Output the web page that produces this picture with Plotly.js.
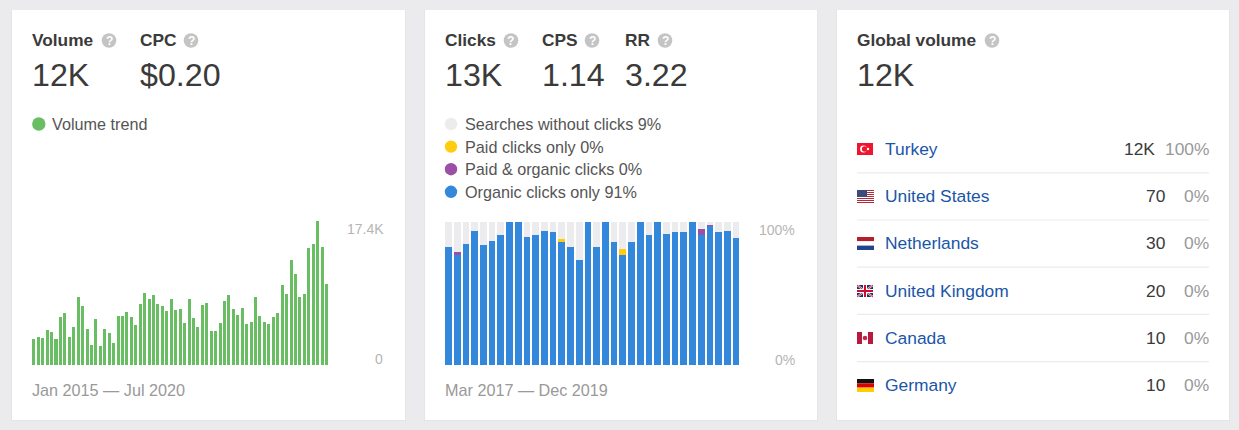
<!DOCTYPE html>
<html><head><meta charset="utf-8">
<script src="https://cdn.plot.ly/plotly-3.0.1.min.js"></script>
<style>html,body{margin:0;padding:0;background:#ebebee;overflow:hidden}#c{width:1239px;height:430px}</style>
</head><body><div id="c"></div>
<script>
const volumeMonths = ["Jan 2015","Feb 2015","Mar 2015","Apr 2015","May 2015","Jun 2015","Jul 2015","Aug 2015","Sep 2015","Oct 2015","Nov 2015","Dec 2015","Jan 2016","Feb 2016","Mar 2016","Apr 2016","May 2016","Jun 2016","Jul 2016","Aug 2016","Sep 2016","Oct 2016","Nov 2016","Dec 2016","Jan 2017","Feb 2017","Mar 2017","Apr 2017","May 2017","Jun 2017","Jul 2017","Aug 2017","Sep 2017","Oct 2017","Nov 2017","Dec 2017","Jan 2018","Feb 2018","Mar 2018","Apr 2018","May 2018","Jun 2018","Jul 2018","Aug 2018","Sep 2018","Oct 2018","Nov 2018","Dec 2018","Jan 2019","Feb 2019","Mar 2019","Apr 2019","May 2019","Jun 2019","Jul 2019","Aug 2019","Sep 2019","Oct 2019","Nov 2019","Dec 2019","Jan 2020","Feb 2020","Mar 2020","Apr 2020","May 2020","Jun 2020","Jul 2020"];
const volumeValues = [3100,3340,3300,4190,3990,3100,5760,6240,3340,4550,8180,7130,4350,2420,5560,2300,4350,3830,2620,5920,5920,6440,5760,4870,7330,8700,7970,8420,7330,7170,6570,7970,6610,6730,5080,7970,5640,4590,7290,7450,4070,4150,5030,7690,8460,6730,6000,6930,4950,5240,8220,5880,5160,4950,5840,6240,9630,8580,12690,11000,8180,8540,14100,14620,17400,14260,9750];

const clickMonths = ["Mar 2017","Apr 2017","May 2017","Jun 2017","Jul 2017","Aug 2017","Sep 2017","Oct 2017","Nov 2017","Dec 2017","Jan 2018","Feb 2018","Mar 2018","Apr 2018","May 2018","Jun 2018","Jul 2018","Aug 2018","Sep 2018","Oct 2018","Nov 2018","Dec 2018","Jan 2019","Feb 2019","Mar 2019","Apr 2019","May 2019","Jun 2019","Jul 2019","Aug 2019","Sep 2019","Oct 2019","Nov 2019","Dec 2019"];
const organicOnly = [82.8,76.7,84.9,93.9,83.9,86.9,90.9,100,100,89.7,90.9,93.9,93,86,82.8,73.7,100,82.8,100,86,76.9,86,100,90.9,100,91.8,93,93,100,90.9,97,93,93.9,88.8];
const paidOrganic = [0,2.3,0,0,0,0,0,0,0,0,0,0,0,0,0,0,0,0,0,0,0,0,0,0,0,0,0,0,0,4,0.9,0,0,0];
const paidOnly    = [0,0,0,0,0,0,0,0,0,0,0,0,0,1.9,0,0,0,0,0,0,4,0,0,0,0,0,0,0,0,0,0,0,0,0];
const noClicks    = [17.2,21,15.1,6.1,16.1,13.1,9.1,0,0,10.3,9.1,6.1,7,12.1,17.2,26.3,0,17.2,0,14,19.1,14,0,9.1,0,8.2,7,7,0,5.1,2.1,7,6.1,11.2];

const volumeStats = [["Volume","12K",32],["CPC","$0.20",140]];
const clickStats = [["Clicks","13K",445],["CPS","1.14",542],["RR","3.22",625]];
const clickLegend = ["Searches without clicks 9%","Paid clicks only 0%","Paid & organic clicks 0%","Organic clicks only 91%"];
const countries = ["Turkey","United States","Netherlands","United Kingdom","Canada","Germany"];
const countryVolume = ["12K","70","30","20","10","10"];
const countryShare = ["100%","0%","0%","0%","0%","0%"];

const W=1239,H=430;
const X=x=>x/W, Y=y=>1-y/H;
const FONT='"Liberation Sans", Arial, sans-serif';
const C={green:'#69bd63',blue:'#3388dc',gray:'#ececee',yellow:'#ffcc10',purple:'#9b4fa6',ink:'#3a3a3a',grayT:'#999',axis:'#b5b5b5',link:'#1a56a8',help:'#c4c4c4'};
const annotations=[],shapes=[];
function text(x,y,s,size,color,anchor,bold){annotations.push({xref:'paper',yref:'paper',x:X(x),y:Y(y),text:bold?'<b>'+s+'</b>':s,showarrow:false,xanchor:anchor||'left',yanchor:'middle',borderpad:0,borderwidth:0,font:{family:FONT,size:size,color:color}});}
function rect(x0,y0,x1,y1,fill){shapes.push({type:'rect',xref:'paper',yref:'paper',x0:X(x0),x1:X(x1),y0:Y(y0),y1:Y(y1),fillcolor:fill,line:{width:0},layer:'below'});}
function dot(cx,cy,r,fill){shapes.push({type:'circle',xref:'paper',yref:'paper',x0:X(cx-r),x1:X(cx+r),y0:Y(cy+r),y1:Y(cy-r),fillcolor:fill,line:{width:0},layer:'above'});}
function seg(x0,y0,x1,y1,c,w){shapes.push({type:'line',xref:'paper',yref:'paper',x0:X(x0),x1:X(x1),y0:Y(y0),y1:Y(y1),line:{color:c,width:w},layer:'above'});}
function fr(x0,y0,x1,y1,fill){shapes.push({type:'rect',xref:'paper',yref:'paper',x0:X(x0),x1:X(x1),y0:Y(y0),y1:Y(y1),fillcolor:fill,line:{width:0},layer:'above'});}
function help(x,y){dot(x,y+0.5,7.3,C.help);text(x,y+1,'?',12,'#fff','center',true);}

[[12,405],[425,817],[837,1229]].forEach(([a,b])=>{rect(a-1,10,b+1,421,'#e5e5e8');rect(a,10,b,420,'#ffffff');});

volumeStats.forEach(([t,v,x])=>{text(x,40,t,17.3,C.ink,'left',true);text(x,75,v,32.2,C.ink);});
help(109,40);help(191,40);
clickStats.forEach(([t,v,x])=>{text(x,40,t,17.3,C.ink,'left',true);text(x,75,v,32.2,C.ink);});
help(511,40);help(592,40);help(665,40);
text(857,40,'Global volume',17.3,C.ink,'left',true);help(992,40);
text(857,75,'12K',32.2,C.ink);

dot(38.8,124,6.7,C.green);text(52,124,'Volume trend',16.2,'#555');
[C.gray,C.yellow,C.purple,C.blue].forEach((c,i)=>{const y=124+i*22.6;dot(451,y,6.2,c);text(465,y,clickLegend[i],16.2,'#555');});

text(384,229,'17.4K',14,C.axis,'right');text(383,359,'0',14,C.axis,'right');
text(795,230,'100%',14,C.axis,'right');text(795,360,'0%',14,C.axis,'right');
text(32,390,'Jan 2015 — Jul 2020',16.2,C.grayT);
text(445,390,'Mar 2017 — Dec 2019',16.2,C.grayT);

countries.forEach((c,i)=>{const y=149+i*47.2;
  text(885,y,c,17.4,C.link);
  text(i===0?1155:1165,y,countryVolume[i],17.4,C.ink,'right');
  text(1209,y,countryShare[i],17.4,'#999','right');
  if(i<5) rect(857,y+23.2,1209,y+24.4,'#ebebee');
});
// flags
const fx=857,fw=17;
(function(){
 const y=143; fr(fx,y,fx+16,y+12,'#f0152f'); dot(fx+6.5,y+6,3.4,'#fff'); dot(fx+7.6,y+6,2.7,'#f0152f'); dot(fx+11,y+6,1.2,'#fff');
 const u=190; fr(fx,u,fx+fw,u+13,'#fff');
 for(let k=0;k<7;k++) fr(fx,u+k*2,fx+fw,u+k*2+1,'#b3293c');
 fr(fx,u,fx+10,u+7,'#3d4a7c');
 const n=237; fr(fx,n,fx+fw,n+4.3,'#b2202d'); fr(fx,n+4.3,fx+fw,n+8.6,'#fff'); fr(fx,n+8.6,fx+fw,n+13,'#21468b');
 const b=285,bw=16; fr(fx,b,fx+bw,b+12,'#1f2f6d');
 seg(fx,b,fx+bw,b+12,'#fff',1.8);seg(fx,b+12,fx+bw,b,'#fff',1.8);seg(fx,b,fx+bw,b+12,'#c8102e',0.9);seg(fx,b+12,fx+bw,b,'#c8102e',0.9);
 fr(fx+6,b,fx+10,b+12,'#fff');fr(fx,b+4,fx+bw,b+8,'#fff');fr(fx+7,b,fx+9,b+12,'#c8102e');fr(fx,b+5,fx+bw,b+7,'#c8102e');
 const a=332; fr(fx,a,fx+16,a+12,'#fff');fr(fx,a,fx+5,a+12,'#b8193f');fr(fx+11,a,fx+16,a+12,'#b8193f');dot(fx+8,a+6,2.3,'#c8264a');
 const g=379; fr(fx,g,fx+fw,g+4.3,'#111');fr(fx,g+4.3,fx+fw,g+8.6,'#dd0000');fr(fx,g+8.6,fx+fw,g+13,'#ffce00');
})();

const traces=[
 {type:'bar',name:'Volume',x:volumeMonths,y:volumeValues,width:0.68,xaxis:'x',yaxis:'y',marker:{color:C.green,line:{width:0}}},
 {type:'bar',name:'Organic clicks only',x:clickMonths,y:organicOnly,width:0.77,xaxis:'x2',yaxis:'y2',marker:{color:C.blue,line:{width:0}}},
 {type:'bar',name:'Paid & organic clicks',x:clickMonths,y:paidOrganic,width:0.77,xaxis:'x2',yaxis:'y2',marker:{color:C.purple,line:{width:0}}},
 {type:'bar',name:'Paid clicks only',x:clickMonths,y:paidOnly,width:0.77,xaxis:'x2',yaxis:'y2',marker:{color:C.yellow,line:{width:0}}},
 {type:'bar',name:'Searches without clicks',x:clickMonths,y:noClicks,width:0.77,xaxis:'x2',yaxis:'y2',marker:{color:C.gray,line:{width:0}}}
];
const hidden={showgrid:false,zeroline:false,showticklabels:false,ticks:'',showline:false,fixedrange:true};
const layout={
 width:W,height:H,margin:{l:0,r:0,t:0,b:0},paper_bgcolor:'#ebebee',plot_bgcolor:'rgba(0,0,0,0)',showlegend:false,
 barmode:'stack',bargap:0.3,
 xaxis:Object.assign({type:'category',domain:[X(31.6),X(328.7)],anchor:'y',range:[-0.5,66.5],categoryorder:'array',categoryarray:volumeMonths},hidden),
 yaxis:Object.assign({domain:[Y(365),Y(221)],anchor:'x',range:[0,17400]},hidden),
 xaxis2:Object.assign({type:'category',domain:[X(444.15),X(740.35)],anchor:'y2',range:[-0.5,33.5],categoryorder:'array',categoryarray:clickMonths},hidden),
 yaxis2:Object.assign({domain:[Y(365),Y(222)],anchor:'x2',range:[0,100]},hidden),
 annotations,shapes
};
Plotly.newPlot('c',traces,layout,{displayModeBar:false,staticPlot:true});
</script></body></html>
